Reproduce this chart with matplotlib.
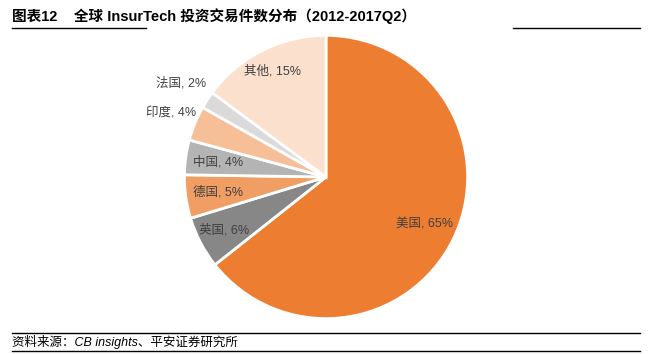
import numpy as np
import matplotlib.pyplot as plt
from matplotlib.lines import Line2D

plt.rcParams['font.family'] = ['Liberation Sans', 'Noto Sans CJK SC', 'DejaVu Sans']

countries = ['美国', '英国', '德国', '中国', '印度', '法国', '其他']
shares = [65, 6, 5, 4, 4, 2, 15]
colors = ['#ED7D31', '#878787', '#F19E64', '#B4B4B4', '#F7BF98', '#DADADA', '#FBE0CD']
label_dist = [0.77, 0.81, 0.77, 0.77, 1.18, 1.22, 0.84]

title = '图表12    全球 InsurTech 投资交易件数分布（2012-2017Q2）'
source = '资料来源：CB insights、平安证券研究所'

W, H = 652, 354
fig = plt.figure(figsize=(W / 100, H / 100), dpi=100)
ax = fig.add_axes([0, 0, 1, 1])
r_px = 139
cx, cy = 329, 171
ax.set_xlim(-cx / r_px, (W - cx) / r_px)
ax.set_ylim(-(H - cy) / r_px, cy / r_px)
ax.axis('off')

wedges, _ = ax.pie(shares, colors=colors, startangle=90, counterclock=False,
                   radius=1, wedgeprops=dict(edgecolor='white', linewidth=2))

for w, name, s, d in zip(wedges, countries, shares, label_dist):
    ang = np.deg2rad((w.theta1 + w.theta2) / 2)
    ax.text(d * np.cos(ang), d * np.sin(ang), f'{name}, {s}%',
            ha='center', va='center', fontsize=9, color='#404040')

# title and source
fig.text(12 / W, 1 - 16 / H, title, fontsize=10.5, fontweight='bold',
         ha='left', va='center', color='black')
fig.add_artist(Line2D([12 / W, 146 / W], [1 - 28 / H] * 2, color='black', lw=1))
fig.add_artist(Line2D([513 / W, 640 / W], [1 - 28 / H] * 2, color='black', lw=1))
fig.add_artist(Line2D([12 / W, 640 / W], [1 - 333 / H] * 2, color='black', lw=1))
fig.add_artist(Line2D([12 / W, 640 / W], [1 - 351 / H] * 2, color='black', lw=1))
fig.text(12 / W, 1 - 342 / H, source, fontsize=9, style='italic',
         ha='left', va='center', color='black')

fig.savefig('out.png', dpi=100)
